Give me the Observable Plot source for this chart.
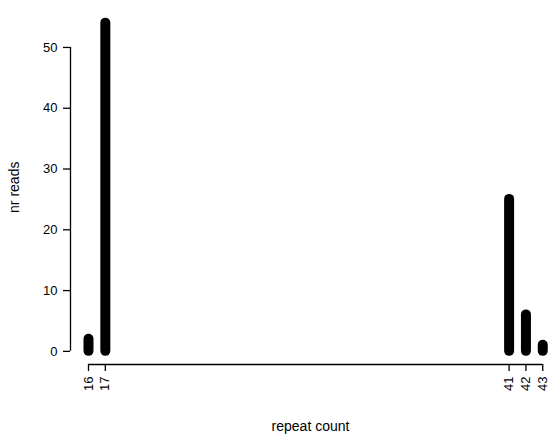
<!DOCTYPE html>
<html>
<head>
<meta charset="utf-8">
<script src="https://cdn.jsdelivr.net/npm/d3@7"></script>
<script src="https://cdn.jsdelivr.net/npm/@observablehq/plot@0.6"></script>
<style>
  html, body { margin: 0; padding: 0; background: #fff; }
  #chart svg { display: block; }
</style>
</head>
<body>
<div id="chart"></div>
<script>
const repeatCounts = [16, 17, 41, 42, 43];
const nrReads = [2, 54, 25, 6, 1];
const xTicks = [16, 17, 41, 42, 43];
const yTicks = [0, 10, 20, 30, 40, 50];

const data = repeatCounts.map((r, i) => ({repeat: r, reads: nrReads[i]}));

const xDomain = [14.93, 43.46];
const yDomain = [-2.16, 56.16];

const chart = Plot.plot({
  width: 551,
  height: 439,
  marginLeft: 70,
  marginRight: 1,
  marginTop: 9.5,
  marginBottom: 75,
  style: {fontFamily: "'Liberation Sans', Arial, Helvetica, sans-serif", background: "#fff", color: "#000"},
  x: {domain: xDomain},
  y: {domain: yDomain},
  marks: [
    Plot.ruleX(data, {x: "repeat", y1: 0, y2: "reads", stroke: "#000", strokeWidth: 10, strokeLinecap: "round"}),
    Plot.ruleX([xDomain[0]], {y1: yTicks[0], y2: yTicks[yTicks.length - 1], stroke: "#000", strokeWidth: 1.3}),
    Plot.ruleY([yDomain[0]], {x1: xTicks[0], x2: xTicks[xTicks.length - 1], stroke: "#000", strokeWidth: 1.3}),
    Plot.axisY({ticks: yTicks, tickSize: 7, tickPadding: 6, fontSize: 13, strokeWidth: 1.3, label: null}),
    Plot.axisY({ticks: [], tickSize: 0, fontSize: 14,
      label: "nr reads", labelAnchor: "center", labelArrow: "none", labelOffset: 61}),
    Plot.axisX({ticks: xTicks, tickSize: 7, tickPadding: 5, tickRotate: -90, fontSize: 13, strokeWidth: 1.3, label: null}),
    Plot.axisX({ticks: [], tickSize: 0, fontSize: 14,
      label: "repeat count", labelAnchor: "center", labelArrow: "none", labelOffset: 66})
  ]
});
document.getElementById("chart").appendChild(chart);
</script>
</body>
</html>
